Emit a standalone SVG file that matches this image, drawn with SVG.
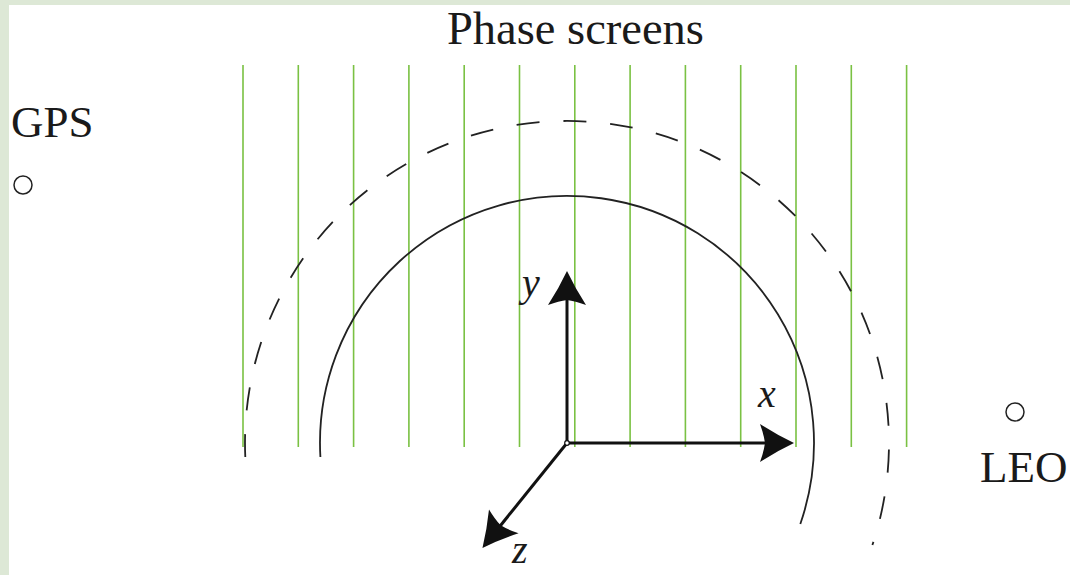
<svg xmlns="http://www.w3.org/2000/svg" width="1070" height="575" viewBox="0 0 1070 575">
<style>
.lbl{font-family:"Liberation Serif","Times New Roman",serif;font-size:45px;fill:#1a1a1a}
.ax{font-family:"Liberation Serif","Times New Roman",serif;font-size:40px;font-style:italic;fill:#1a1a1a}
.scr{stroke:#7ac143;stroke-width:1.6;fill:none}
.arc{fill:none;stroke:#222;stroke-width:1.8}
.axis{stroke:#111;stroke-width:3;fill:none}
.sat{fill:none;stroke:#222;stroke-width:1.5}
</style>
<defs>
<marker id="ah" markerUnits="userSpaceOnUse" markerWidth="40" markerHeight="40" refX="0" refY="0" orient="auto" overflow="visible">
<path d="M23,0 Q6,-8 -11,-19 Q-7,-8 -6,0 Q-7,8 -11,19 Q6,8 23,0 Z" fill="#111"/>
</marker>
</defs>
<rect x="0" y="0" width="1070" height="575" fill="#dde8d6"/>
<rect x="9" y="5" width="1061" height="570" fill="#ffffff"/>
<g id="phase-screens">
<path class="scr" d="M243,65V447M298.3,65V447M353.6,65V447M408.9,65V447M464.2,65V447M519.5,65V447M574.8,65V447M630.1,65V447M685.4,65V447M740.7,65V447M796,65V447M851.3,65V447M906.6,65V447"/>
<text class="lbl" x="447" y="44" style="font-size:46.5px">Phase screens</text>
</g>
<g id="arcs">
<path class="arc" d="M320.4,457 A247,247 0 1,1 800.3,524"/>
<path class="arc" stroke-dasharray="23 23.9" d="M245.3,457 A322,322 0 1,1 872.4,545"/>
</g>
<g id="gps">
<text class="lbl" x="11" y="137">GPS</text>
<circle class="sat" cx="23" cy="185" r="9"/>
</g>
<g id="leo">
<circle class="sat" cx="1015" cy="412" r="9"/>
<text class="lbl" x="980" y="482">LEO</text>
</g>
<g id="connectors">
<line class="axis" x1="567" y1="443" x2="567" y2="294" marker-end="url(#ah)"/>
<line class="axis" x1="567" y1="443" x2="771" y2="443" marker-end="url(#ah)"/>
<line class="axis" x1="567" y1="443" x2="496.9" y2="530" marker-end="url(#ah)"/>
<circle cx="567" cy="443" r="2.3" fill="#fff" stroke="#111" stroke-width="1.2"/>
</g>
<g id="axis-labels">
<text class="ax" x="522" y="296">y</text>
<text class="ax" x="758" y="407">x</text>
<text class="ax" x="512" y="563">z</text>
</g>
</svg>
